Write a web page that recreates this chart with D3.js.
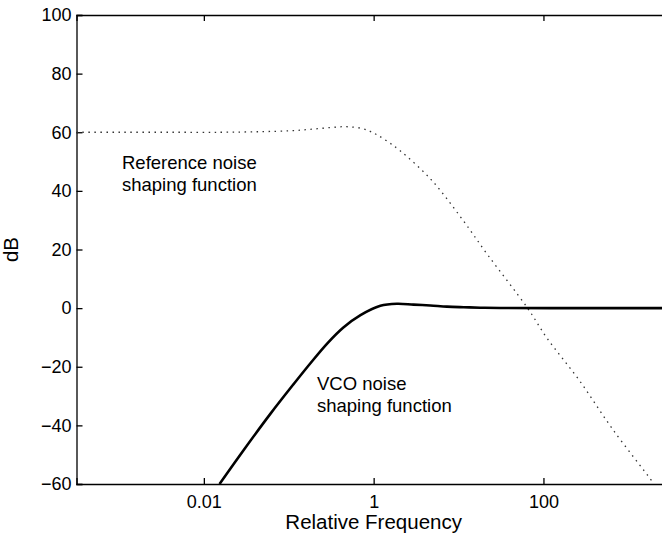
<!DOCTYPE html>
<html>
<head>
<meta charset="utf-8">
<script src="https://cdn.jsdelivr.net/npm/d3@7"></script>
<style>
  body { margin: 0; background: #fff; }
  svg { display: block; font-family: "Liberation Sans", Arial, Helvetica, sans-serif; }
  .axis text { font-size: 18px; fill: #000; }
  .axis path, .axis line { stroke: #000; stroke-width: 1.3; }
  .note { font-size: 18.5px; fill: #000; }
  .label { font-size: 20.5px; fill: #000; }
</style>
</head>
<body>
<script>
// tick labels
var xTicks = [0.01, 1, 100];
var yTicks = [-60, -40, -20, 0, 20, 40, 60, 80, 100];

// reference noise shaping function (dotted)
var refFreq = [0.000316, 0.001, 0.004, 0.016, 0.047, 0.105, 0.18, 0.31, 0.46, 0.70, 0.91, 1.1, 1.45, 2.05, 4.7, 10.5, 22.4, 65, 110, 270, 660, 1820, 2000];
var refDb   = [60.0, 60.0, 60.0, 60.0, 60.2, 60.5, 61.0, 61.6, 61.9, 61.4, 60.3, 59.1, 56.9, 53.7, 44.0, 31.2, 17.9, 0, -10.2, -25, -41.5, -58.3, -60];

// VCO noise shaping function (solid)
var vcoFreq = [0.0153, 0.0295, 0.061, 0.115, 0.18, 0.285, 0.44, 0.70, 1.2, 1.88, 2.95, 4.65, 7.3, 11.5, 18, 31, 120, 3162];
var vcoDb   = [-60, -48.4, -36.0, -25.8, -18.8, -12.0, -6.6, -2.4, 0.8, 1.5, 1.2, 0.9, 0.5, 0.3, 0.15, 0.05, 0, 0];

var W = 662, H = 535;
var margin = {left: 76.5, top: 15, bottom: 484};
var xRight = 670.8; // right edge of the axes box falls just outside the picture

var svg = d3.select("body").append("svg")
    .attr("width", W)
    .attr("height", H);

var x = d3.scaleLog()
    .domain([Math.pow(10, -3.5), Math.pow(10, 3.5)])
    .range([margin.left, xRight]);

var y = d3.scaleLinear()
    .domain([-60, 100])
    .range([margin.bottom, margin.top]);

svg.append("clipPath")
   .attr("id", "plotclip")
   .append("rect")
   .attr("x", margin.left)
   .attr("y", margin.top)
   .attr("width", xRight - margin.left)
   .attr("height", margin.bottom - margin.top);

// axes box
svg.append("g")
   .attr("class", "axis")
   .attr("transform", "translate(0," + margin.bottom + ")")
   .call(d3.axisBottom(x).tickValues(xTicks).tickFormat(d3.format("~g")).tickSize(-6).tickPadding(11));

svg.append("g")
   .attr("class", "axis")
   .attr("transform", "translate(0," + margin.top + ")")
   .call(d3.axisTop(x).tickValues(xTicks).tickFormat("").tickSize(-6));

svg.append("g")
   .attr("class", "axis")
   .attr("transform", "translate(" + margin.left + ",0)")
   .call(d3.axisLeft(y).tickValues(yTicks).tickFormat(d3.format("d")).tickSize(-6).tickPadding(5));

svg.append("g")
   .attr("class", "axis")
   .attr("transform", "translate(" + xRight + ",0)")
   .call(d3.axisRight(y).tickValues(yTicks).tickFormat("").tickSize(-6));

// curves
var refData = refFreq.map(function(f, i) { return {f: f, db: refDb[i]}; });
var vcoData = vcoFreq.map(function(f, i) { return {f: f, db: vcoDb[i]}; });

var line = d3.line()
    .x(function(d) { return x(d.f); })
    .y(function(d) { return y(d.db); })
    .curve(d3.curveCatmullRom.alpha(0.5));

var plot = svg.append("g").attr("clip-path", "url(#plotclip)");

plot.append("path")
    .datum(refData)
    .attr("d", line)
    .attr("fill", "none")
    .attr("stroke", "#333")
    .attr("stroke-width", 1.3)
    .attr("stroke-dasharray", "1.5,4.5");

plot.append("path")
    .datum(vcoData)
    .attr("d", line)
    .attr("fill", "none")
    .attr("stroke", "#000")
    .attr("stroke-width", 2.6);

// labels
svg.append("text")
   .attr("x", (margin.left + xRight) / 2)
   .attr("y", 529)
   .attr("text-anchor", "middle")
   .attr("class", "label")
   .text("Relative Frequency");

svg.append("text")
   .attr("transform", "translate(18," + ((margin.top + margin.bottom) / 2) + ") rotate(-90)")
   .attr("text-anchor", "middle")
   .attr("class", "label")
   .text("dB");

var notes = [
  {x: 122, y: 169, t: "Reference noise"},
  {x: 122, y: 191, t: "shaping function"},
  {x: 317, y: 390, t: "VCO noise"},
  {x: 317, y: 412, t: "shaping function"}
];
svg.selectAll("text.ann")
   .data(notes)
   .enter().append("text")
   .attr("class", "note ann")
   .attr("x", function(d) { return d.x; })
   .attr("y", function(d) { return d.y; })
   .text(function(d) { return d.t; });
</script>
</body>
</html>
